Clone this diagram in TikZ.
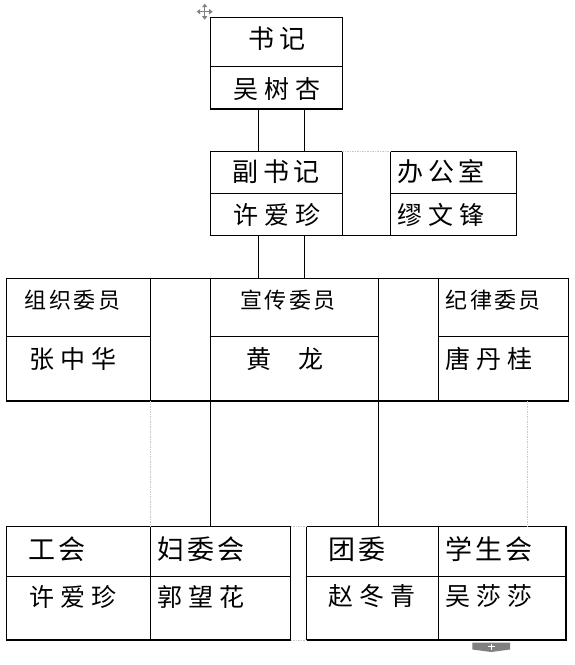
\documentclass[tikz,border=0pt]{standalone}
\usepackage{fontspec}
\usepackage{tikz}
\usetikzlibrary{positioning, arrows.meta}

\newfontfamily\cjktop[LetterSpace=19]{Noto Sans CJK SC}
\newfontfamily\cjkname[LetterSpace=24]{Noto Sans CJK SC}
\newfontfamily\cjkmid[LetterSpace=11]{Noto Sans CJK SC}
\newfontfamily\cjkbot[LetterSpace=11]{Noto Sans CJK SC}

\definecolor{gridgray}{RGB}{200,200,200}
\definecolor{tabgray}{RGB}{128,128,128}

\begin{document}
\begin{tikzpicture}[
    x=1pt, y=1pt,
    cell/.style={draw, line width=1.1pt, inner sep=0pt, outer sep=0pt},
    tophd/.style={anchor=west, inner sep=0pt, font=\cjktop\fontsize{26}{26}\selectfont},
    namelbl/.style={anchor=west, inner sep=0pt, font=\cjkname\fontsize{25}{25}\selectfont},
    midhd/.style={anchor=west, inner sep=0pt, font=\cjkmid\fontsize{22}{22}\selectfont},
    bothd/.style={anchor=west, inner sep=0pt, font=\cjkbot\fontsize{27}{27}\selectfont},
    link/.style={line width=1.1pt},
    hidden/.style={draw=gridgray, line width=0.6pt, dash pattern=on 1.5pt off 1pt}
]
\useasboundingbox (0,0) rectangle (574,-665);

% secretary
\node[cell, anchor=north west, minimum width=131.6pt, minimum height=49pt] (sj) at (210.7,-17.3) {};
\node[cell, below=0pt of sj, minimum width=131.6pt, minimum height=42.7pt] (sjn) {};
\node[tophd] (t-sj) at ([shift={(37.2,-21.7)}]sj.north west) {书记};
\node[namelbl] (t-sjn) at ([shift={(22.2,-22.7)}]sjn.north west) {吴树杏};

% deputy and office
\node[cell, anchor=north west, minimum width=131.6pt, minimum height=42pt] (fsj) at (210.7,-151.3) {};
\node[cell, below=0pt of fsj, minimum width=131.6pt, minimum height=42pt] (fsjn) {};
\node[cell, anchor=north west, minimum width=126pt, minimum height=42pt] (bgs) at (390.3,-151.3) {};
\node[cell, below=0pt of bgs, minimum width=126pt, minimum height=42pt] (bgsn) {};
\node[tophd] (t-fsj) at ([shift={(21.2,-20.7)}]fsj.north west) {副书记};
\node[namelbl] (t-fsjn) at ([shift={(22.2,-21.7)}]fsjn.north west) {许爱珍};
\node[tophd] (t-bgs) at ([shift={(6.6,-20.7)}]bgs.north west) {办公室};
\node[namelbl] (t-bgsn) at ([shift={(6.6,-21.7)}]bgsn.north west) {缪文锋};

% committee members
\node[cell, anchor=north west, minimum width=144pt, minimum height=58pt] (zz) at (6.3,-278.3) {};
\node[cell, below=0pt of zz, minimum width=144pt, minimum height=64.7pt] (zzn) {};
\node[cell, anchor=north west, minimum width=60.4pt, minimum height=122.7pt] (gap1) at (zz.north east) {};
\node[cell, anchor=north west, minimum width=168pt, minimum height=58pt] (xc) at (gap1.north east) {};
\node[cell, below=0pt of xc, minimum width=168pt, minimum height=64.7pt] (xcn) {};
\node[cell, anchor=north west, minimum width=59.6pt, minimum height=122.7pt] (gap2) at (xc.north east) {};
\node[cell, anchor=north west, minimum width=130.4pt, minimum height=58pt] (jl) at (gap2.north east) {};
\node[cell, below=0pt of jl, minimum width=130.4pt, minimum height=64.7pt] (jln) {};
\node[midhd] (t-zz) at ([shift={(18.4,-21.7)}]zz.north west) {组织委员};
\node[namelbl] (t-zzn) at ([shift={(23,-22.7)}]zzn.north west) {张中华};
\node[midhd] (t-xc) at ([shift={(29.7,-21.7)}]xc.north west) {宣传委员};
\node[namelbl] (t-xcn) at ([shift={(35.9,-22.7)}]xcn.north west) {黄\hspace{27pt}龙};
\node[midhd] (t-jl) at ([shift={(7.1,-21.7)}]jl.north west) {纪律委员};
\node[namelbl] (t-jln) at ([shift={(7,-22.7)}]jln.north west) {唐丹桂};

% mass organisations
\node[cell, anchor=north west, minimum width=144pt, minimum height=50pt] (gh) at (6.3,-526.3) {};
\node[cell, below=0pt of gh, minimum width=144pt, minimum height=63.7pt] (ghn) {};
\node[cell, right=0pt of gh, minimum width=140.2pt, minimum height=50pt] (fw) {};
\node[cell, right=0pt of ghn, minimum width=140.2pt, minimum height=63.7pt] (fwn) {};
\node[cell, anchor=north west, minimum width=132pt, minimum height=50pt] (tw) at (306.3,-526.3) {};
\node[cell, below=0pt of tw, minimum width=132pt, minimum height=63.7pt] (twn) {};
\node[cell, right=0pt of tw, minimum width=127.7pt, minimum height=50pt] (xsh) {};
\node[cell, right=0pt of twn, minimum width=127.7pt, minimum height=63.7pt] (xshn) {};
\node[bothd] (t-gh) at ([shift={(22.3,-22.7)}]gh.north west) {工会};
\node[namelbl] (t-ghn) at ([shift={(23,-20.2)}]ghn.north west) {许爱珍};
\node[bothd] (t-fw) at ([shift={(6.6,-22.7)}]fw.north west) {妇委会};
\node[namelbl] (t-fwn) at ([shift={(6.6,-20.2)}]fwn.north west) {郭望花};
\node[bothd] (t-tw) at ([shift={(22.3,-22.7)}]tw.north west) {团委};
\node[namelbl] (t-twn) at ([shift={(21.6,-20.2)}]twn.north west) {赵冬青};
\node[bothd] (t-xsh) at ([shift={(7,-22.7)}]xsh.north west) {学生会};
\node[namelbl] (t-xshn) at ([shift={(7,-20.2)}]xshn.north west) {吴莎莎};

% links
\draw[link] ([xshift=-17.8pt]sjn.south) -- ([xshift=-17.8pt]fsj.north);
\draw[link] ([xshift=27.8pt]sjn.south) -- ([xshift=27.8pt]fsj.north);
\draw[link] ([xshift=-17.8pt]fsjn.south) -- ([xshift=-17.8pt]fsjn.south |- xc.north);
\draw[link] ([xshift=27.8pt]fsjn.south) -- ([xshift=27.8pt]fsjn.south |- xc.north);
\draw[link] (fsjn.south east) -- (bgsn.south west);
\draw[link] (xcn.south west) -- (xcn.south west |- fw.north);
\draw[link] (xcn.south east) -- (xcn.south east |- tw.north);

% hidden grid lines
\draw[hidden] (fsj.north east) -- (bgs.north west);
\draw[hidden] (zzn.south east) -- (gh.north east);
\draw[hidden] ([xshift=23.8pt]jln.south) -- ([xshift=23.8pt]jln.south |- xsh.north);
\draw[hidden] (fw.north east) -- (tw.north west);
\draw[hidden] (fwn.south east) -- (twn.south west);

% table handles
\foreach \a in {0,90,180,270}
  \draw[tabgray, line width=1.3pt, -{Triangle[length=3.5pt, width=5pt]}] (204.7,-11.7) -- ++(\a:8pt);
\fill[tabgray] (472.3,-642.7) -- (510,-642.7) -- (510,-649.5) -- (491.2,-652) -- (472.3,-649.5) -- cycle;
\draw[white, line width=1.3pt] (487.7,-646.8) -- (494.7,-646.8) (491.2,-643.8) -- (491.2,-649.8);

\end{tikzpicture}
\end{document}
